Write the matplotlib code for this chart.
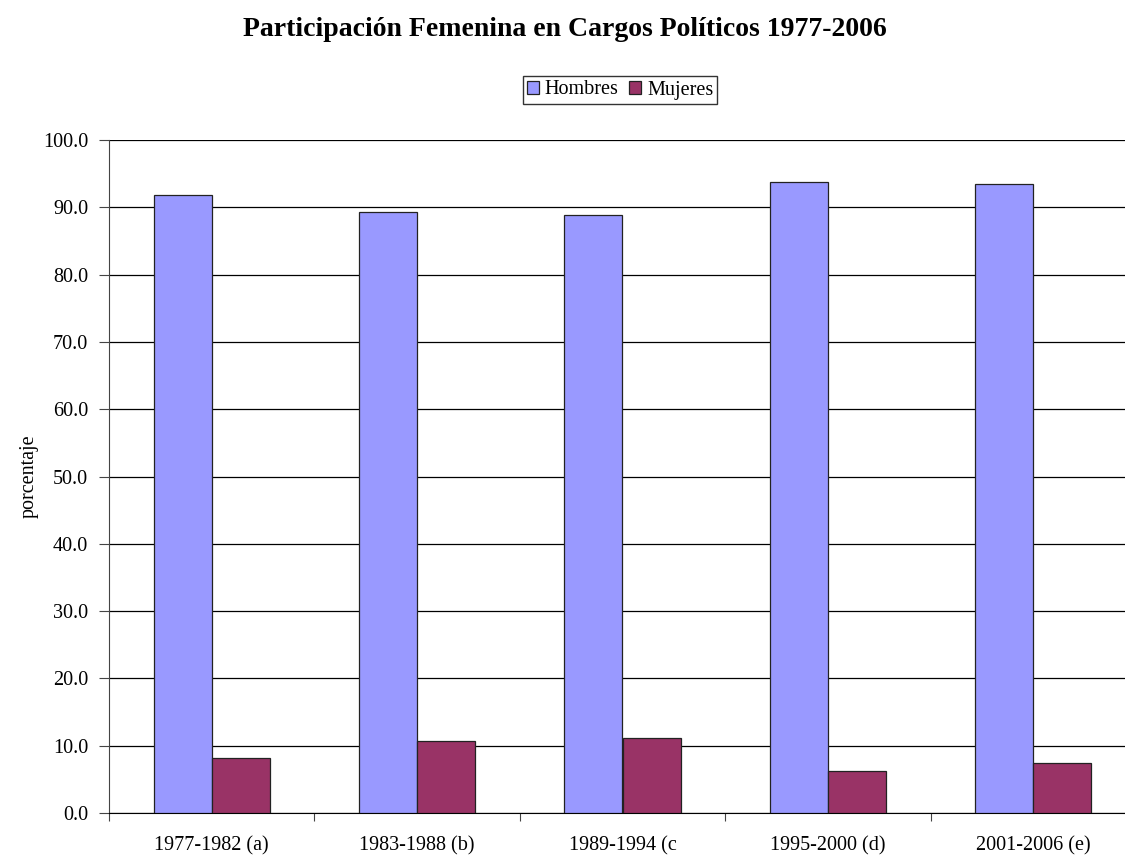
"""Participacion femenina en cargos politicos, 1977-2006."""

import matplotlib
matplotlib.use("Agg")
import matplotlib.pyplot as plt
import numpy as np

periodos = ["1977-1982 (a)", "1983-1988 (b)", "1989-1994 (c", "1995-2000 (d)", "2001-2006 (e)"]
hombres = [91.9, 89.3, 88.8, 93.7, 93.5]
mujeres = [8.1, 10.7, 11.2, 6.3, 7.5]

plt.rcParams["font.family"] = ["Liberation Serif", "DejaVu Serif"]

fig = plt.figure(figsize=(11.25, 8.58), dpi=100)
ax = fig.add_axes([109 / 1125, 1 - 813 / 858, 1027 / 1125, 673 / 858])

x = np.arange(len(periodos))
width = 0.283
ax.bar(x - width / 2, hombres, width, color="#9999FF", edgecolor="#222222",
       linewidth=0.9, label="Hombres", zorder=3)
ax.bar(x + width / 2, mujeres, width, color="#993366", edgecolor="#222222",
       linewidth=0.9, label="Mujeres", zorder=3)

ax.set_xlim(-0.5, len(periodos) - 0.5)
ax.set_ylim(0, 100)
ax.set_yticks(np.arange(0, 101, 10))
ax.set_yticklabels([f"{v:.1f}" for v in range(0, 101, 10)], fontsize=14.5)
ax.yaxis.grid(True, color="black", linewidth=0.9, zorder=0)

# category labels between the boundary ticks
ax.set_xticks(np.arange(-0.5, len(periodos), 1))
ax.set_xticklabels([])
ax.set_xticks(x, minor=True)
ax.set_xticklabels(periodos, minor=True, fontsize=14.5)
ax.tick_params(axis="x", which="minor", length=0, pad=17)
ax.tick_params(axis="x", which="major", length=6, direction="out", color="#444444")
ax.tick_params(axis="y", length=7, direction="out", color="#444444", pad=8)

for side in ["top", "right"]:
    ax.spines[side].set_visible(False)
ax.spines["left"].set_color("#444444")
ax.spines["bottom"].set_color("black")

ax.set_ylabel("porcentaje", fontsize=14.5, labelpad=3)

fig.suptitle("Participación Femenina en Cargos Políticos 1977-2006",
             x=565 / 1125, y=1 - 30 / 858, va="center", fontsize=20, fontweight="bold")
fig.legend(loc="center", bbox_to_anchor=(620 / 1125, 1 - 90 / 858), ncol=2,
           fontsize=14.5, frameon=True, fancybox=False, edgecolor="black",
           handlelength=0.6, handleheight=0.6, handletextpad=0.3, columnspacing=0.5,
           borderpad=0.2, borderaxespad=0)

fig.savefig("out.png", dpi=100)
plt.close(fig)
